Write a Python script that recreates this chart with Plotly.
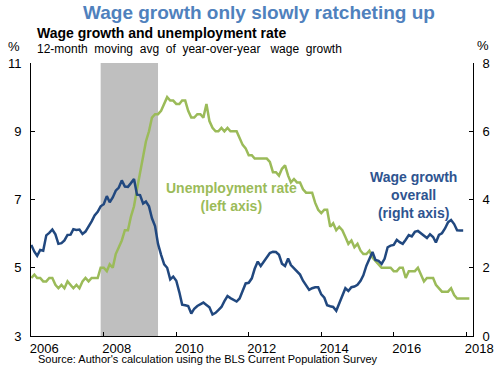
import pandas as pd
import plotly.graph_objects as go

# Unemployment rate (%), monthly Jan 2006 - Feb 2018 (left axis)
unemp = [
    4.7, 4.8, 4.7, 4.7, 4.6, 4.6, 4.7, 4.7, 4.5, 4.4, 4.5, 4.4,   # 2006
    4.6, 4.5, 4.4, 4.5, 4.4, 4.6, 4.7, 4.6, 4.7, 4.7, 4.7, 5.0,   # 2007
    5.0, 4.9, 5.1, 5.0, 5.4, 5.6, 5.8, 6.1, 6.1, 6.5, 6.8, 7.3,   # 2008
    7.8, 8.3, 8.7, 9.0, 9.4, 9.5, 9.5, 9.6, 9.8, 10.0, 9.9, 9.9,  # 2009
    9.8, 9.8, 9.9, 9.9, 9.6, 9.4, 9.4, 9.5, 9.5, 9.4, 9.8, 9.3,   # 2010
    9.1, 9.0, 9.0, 9.1, 9.0, 9.1, 9.0, 9.0, 9.0, 8.8, 8.6, 8.5,   # 2011
    8.3, 8.3, 8.2, 8.2, 8.2, 8.2, 8.2, 8.1, 7.8, 7.8, 7.7, 7.9,   # 2012
    8.0, 7.7, 7.5, 7.6, 7.5, 7.5, 7.3, 7.2, 7.2, 7.2, 6.9, 6.7,   # 2013
    6.6, 6.7, 6.7, 6.2, 6.3, 6.1, 6.2, 6.1, 5.9, 5.7, 5.8, 5.6,   # 2014
    5.7, 5.5, 5.4, 5.4, 5.5, 5.3, 5.2, 5.1, 5.0, 5.0, 5.0, 5.0,   # 2015
    4.9, 4.9, 5.0, 5.0, 4.7, 4.9, 4.9, 4.9, 5.0, 4.8, 4.6, 4.7,   # 2016
    4.7, 4.7, 4.5, 4.4, 4.3, 4.3, 4.3, 4.4, 4.2, 4.1, 4.1, 4.1,   # 2017
    4.1, 4.1,                                                     # 2018
]

# Wage growth, 12-month moving avg of y/y (%), monthly Jan 2006 - Dec 2017 (right axis)
wage = [
    2.67, 2.47, 2.35, 2.52, 2.50, 2.95, 3.02, 3.12, 2.98, 2.70, 2.72, 2.80,  # 2006
    2.96, 2.97, 3.13, 3.11, 3.12, 2.99, 3.06, 3.20, 3.36, 3.53, 3.64, 3.80,  # 2007
    3.86, 4.10, 3.92, 4.06, 4.26, 4.35, 4.56, 4.38, 4.37, 4.48, 4.60, 4.14,  # 2008
    4.13, 3.88, 3.94, 3.80, 3.45, 3.22, 2.70, 2.38, 2.10, 2.00, 1.66, 1.74,  # 2009
    1.62, 1.28, 0.92, 0.90, 0.88, 0.66, 0.80, 0.88, 0.94, 0.98, 0.91, 0.84,  # 2010
    0.63, 0.68, 0.76, 0.85, 1.02, 1.17, 1.11, 1.06, 1.01, 1.10, 1.33, 1.54,  # 2011
    1.56, 1.69, 1.97, 2.18, 2.05, 2.17, 2.30, 2.43, 2.47, 2.46, 2.38, 2.12,  # 2012
    2.05, 2.27, 2.08, 1.99, 1.92, 1.80, 1.62, 1.48, 1.35, 1.40, 1.43, 1.43,  # 2013
    1.22, 1.12, 0.90, 0.87, 0.85, 0.74, 0.95, 1.22, 1.40, 1.32, 1.43, 1.45,  # 2014
    1.50, 1.62, 1.78, 2.06, 2.27, 2.46, 2.23, 2.20, 2.11, 2.26, 2.60, 2.65,  # 2015
    2.67, 2.82, 2.75, 2.70, 2.82, 2.96, 2.92, 3.05, 3.08, 3.01, 2.93, 2.87,  # 2016
    2.98, 2.90, 2.74, 2.96, 3.01, 3.15, 3.33, 3.40, 3.28, 3.10, 3.09, 3.09,  # 2017
]

unemp_dates = pd.date_range("2006-01-01", periods=len(unemp), freq="MS")
wage_dates = pd.date_range("2006-01-01", periods=len(wage), freq="MS")

recession = ["2007-12-01", "2009-07-01"]
x_range = ["2005-12-29", "2018-03-10"]
year_ticks = [f"{y}-01-01" for y in range(2006, 2019, 2)]
year_labels = [str(y) for y in range(2006, 2019, 2)]
left_ticks = [3, 5, 7, 9, 11]
right_ticks = [0, 2, 4, 6, 8]

GREEN = "#9BBB59"
BLUE = "#21487F"
BLUE_TXT = "#2E5490"
FONT = "Liberation Sans, Arial, sans-serif"

fig = go.Figure()
fig.add_trace(go.Scatter(x=unemp_dates, y=unemp, mode="lines",
                         line=dict(color=GREEN, width=2.5), yaxis="y",
                         showlegend=False, hoverinfo="skip"))
fig.add_trace(go.Scatter(x=wage_dates, y=wage, mode="lines",
                         line=dict(color=BLUE, width=2.5), yaxis="y2",
                         showlegend=False, hoverinfo="skip"))

fig.add_shape(type="rect", xref="x", yref="paper", x0=recession[0], x1=recession[1],
              y0=0, y1=1, fillcolor="#BFBFBF", line=dict(width=0), layer="below")

W, H = 500, 365
PL, PR, PT, PB = 31, 473, 63, 336        # plot-area edges in window pixels
L, R, T, B = PL, W - PR, PT, H - PB
pw, ph = PR - PL, PB - PT


def px(x):
    return (x - PL) / pw


def py(y):
    return (PB - y) / ph


fig.update_layout(
    template="none",
    width=W, height=H,
    margin=dict(l=L, r=R, t=T, b=B, pad=0, autoexpand=False),
    paper_bgcolor="white", plot_bgcolor="white",
    font=dict(family=FONT, size=13, color="black"),
    xaxis=dict(type="date", range=x_range, tickvals=year_ticks, ticktext=year_labels,
               automargin=False,
               showgrid=False, zeroline=False, showline=True, linecolor="black", linewidth=1,
               ticks="inside", ticklen=4, tickcolor="black", ticklabelshift=13,
               tickfont=dict(size=13)),
    yaxis=dict(range=[3, 11], tickvals=left_ticks, showgrid=False, zeroline=False,
               automargin=False,
               showline=True, linecolor="black", linewidth=1, ticks="inside", ticklen=4,
               tickcolor="black", ticklabelstandoff=6, tickfont=dict(size=13)),
    yaxis2=dict(range=[0, 8], tickvals=right_ticks, overlaying="y", side="right",
                automargin=False,
                showgrid=False, zeroline=False, showline=True, linecolor="black", linewidth=1,
                ticks="inside", ticklen=4, tickcolor="black", ticklabelstandoff=6,
                tickfont=dict(size=13)),
)

ann = []
ann.append(dict(text="<b>Wage growth only slowly ratcheting up</b>", x=px(259), y=py(13),
                xanchor="center", yanchor="middle",
                font=dict(size=19, color="#4F81BD")))
ann.append(dict(text="<b>Wage growth and unemployment rate</b>", x=px(35), y=py(33),
                xanchor="left", yanchor="middle", font=dict(size=14, color="black")))
ann.append(dict(text="12-month  moving  avg  of  year-over-year   wage  growth", x=px(35), y=py(49),
                xanchor="left", yanchor="middle", font=dict(size=12, color="black")))
ann.append(dict(text="%", x=px(14), y=py(46), xanchor="center", yanchor="middle",
                font=dict(size=13)))
ann.append(dict(text="%", x=px(483), y=py(45), xanchor="center", yanchor="middle",
                font=dict(size=13)))
ann.append(dict(text="<b>Unemployment rate<br>(left axis)</b>", x=px(231), y=py(197),
                xanchor="center", yanchor="middle", font=dict(size=14, color=GREEN)))
ann.append(dict(text="<b>Wage growth<br>overall<br>(right axis)</b>", x=px(413), y=py(195),
                xanchor="center", yanchor="middle", font=dict(size=14, color=BLUE_TXT)))
ann.append(dict(text="Source: Author's calculation using the BLS Current Population Survey",
                x=px(36), y=py(359), xanchor="left", yanchor="middle",
                font=dict(size=11, color="black")))
for a in ann:
    a.update(xref="paper", yref="paper", showarrow=False)
fig.update_layout(annotations=ann)

fig.write_html("out.html", config={"displayModeBar": False},
               post_script="document.body.style.margin='0';")
